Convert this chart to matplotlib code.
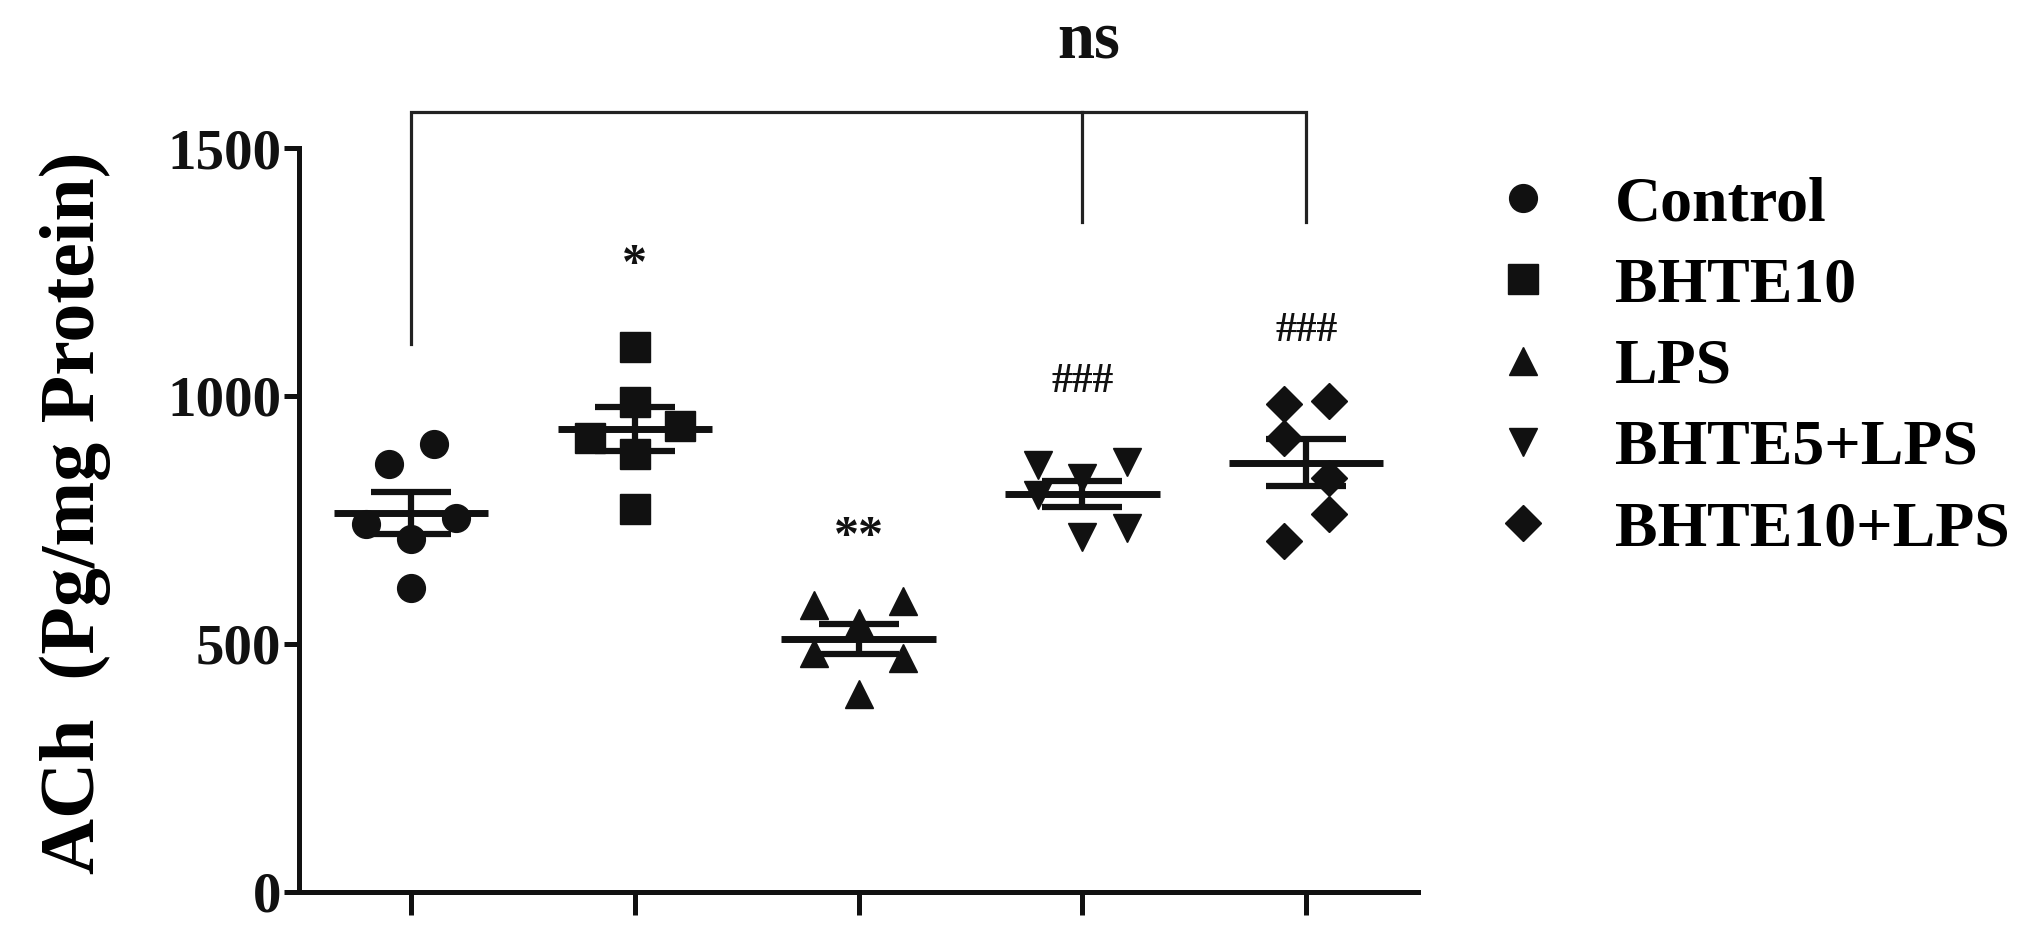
import numpy as np
import matplotlib
matplotlib.use("Agg")
import matplotlib.pyplot as plt
from matplotlib.lines import Line2D

# ---------------- data ----------------
groups = ["Control", "BHTE10", "LPS", "BHTE5+LPS", "BHTE10+LPS"]
markers = ["o", "s", "^", "v", "D"]

control = [903, 862, 741, 754, 711, 613]
bhte10 = [1098, 987, 916, 940, 883, 771]
lps = [579, 586, 542, 481, 471, 398]
bhte5_lps = [861, 866, 835, 800, 715, 734]
bhte10_lps = [984, 990, 916, 835, 761, 707]
values = [control, bhte10, lps, bhte5_lps, bhte10_lps]

# horizontal scatter offsets of the points (group units)
jitter_control = [0.1, -0.1, -0.2, 0.2, 0.0, 0.0]
jitter_bhte10 = [0.0, 0.0, -0.2, 0.2, 0.0, 0.0]
jitter_lps = [-0.2, 0.2, 0.0, -0.2, 0.2, 0.0]
jitter_bhte5_lps = [-0.2, 0.2, 0.0, -0.2, 0.0, 0.2]
jitter_bhte10_lps = [-0.1, 0.1, -0.1, 0.1, 0.1, -0.1]
jitters = [jitter_control, jitter_bhte10, jitter_lps, jitter_bhte5_lps, jitter_bhte10_lps]

sig_labels = ["", "*", "**", "###", "###"]
sig_y = [0, 1261, 714, 1028, 1130]

yticks = [0, 500, 1000, 1500]
ylabel = "ACh  (Pg/mg Protein)"

# ---------------- figure ----------------
serif = ["Liberation Serif", "DejaVu Serif"]
plt.rcParams["font.family"] = serif
plt.rcParams["font.weight"] = "bold"

W, H = 2019, 939
fig = plt.figure(figsize=(W / 100, H / 100), dpi=100)
ax = fig.add_axes([299.3 / W, 1 - 891.7 / H, (1418 - 299.3) / W, (891.7 - 148) / H])

ink = "#111111"
xpos = np.arange(1, len(groups) + 1)
handles = []
for i, (vals, jit, mk) in enumerate(zip(values, jitters, markers)):
    v = np.asarray(vals, float)
    x = xpos[i] + np.asarray(jit)
    ms = 18.8 if mk == "D" else (21 if mk == "s" else 20)
    ax.plot(x, v, linestyle="none", marker=mk, ms=ms, color=ink, mec=ink, zorder=3)
    m = v.mean()
    sem = v.std(ddof=1) / np.sqrt(len(v))
    ax.hlines(m, xpos[i] - 0.345, xpos[i] + 0.345, color=ink, lw=5, zorder=4)
    ax.errorbar(xpos[i], m, yerr=sem, fmt="none", ecolor=ink, elinewidth=4.5,
                capsize=29, capthick=4.5, zorder=4)
    handles.append(Line2D([], [], linestyle="none", marker=mk, ms=ms, color=ink))
    if sig_labels[i]:
        fs = 36 if "*" in sig_labels[i] else 30
        ax.text(xpos[i], sig_y[i], sig_labels[i], ha="center", va="center",
                fontsize=fs, fontweight="bold", color=ink)

# bracket with "ns"
bc = "#222222"
ax.plot([1, 1, 5, 5], [1105, 1572, 1572, 1351], color=bc, lw=2.3, clip_on=False,
        solid_joinstyle="miter")
ax.plot([4, 4], [1572, 1351], color=bc, lw=2.3, clip_on=False)
ax.text(4.03, 1715, "ns", ha="center", va="center", fontsize=48,
        fontweight="bold", color=ink, clip_on=False)

# axes styling
ax.set_xlim(0.5, 5.5)
ax.set_ylim(0, 1500)
ax.set_yticks(yticks)
ax.set_yticklabels([str(t) for t in yticks])
ax.set_xticks(xpos)
ax.set_xticklabels([])
for s in ["top", "right"]:
    ax.spines[s].set_visible(False)
for s in ["left", "bottom"]:
    ax.spines[s].set_linewidth(3.6)
    ax.spines[s].set_color(ink)
    ax.spines[s].set_capstyle("projecting")
ax.tick_params(axis="y", length=11, width=3.6, pad=2, labelsize=41, colors=ink)
ax.tick_params(axis="x", length=16.5, width=3.6, colors=ink)
for lab in ax.get_yticklabels():
    lab.set_fontweight("bold")

ax.set_ylabel(ylabel, fontsize=56, fontweight="bold", va="center", ha="center")
ax.yaxis.set_label_coords(-0.2, 0.51)

leg = ax.legend(handles, groups, loc="upper left",
                bbox_to_anchor=(1497 / W, 1 - 176 / H), bbox_transform=fig.transFigure,
                frameon=False, borderpad=0, borderaxespad=0, handlelength=0.8,
                handletextpad=1.05, labelspacing=0.35,
                prop={"family": serif, "weight": "bold", "size": 46})

fig.savefig("out.png", dpi=100, facecolor="white")
